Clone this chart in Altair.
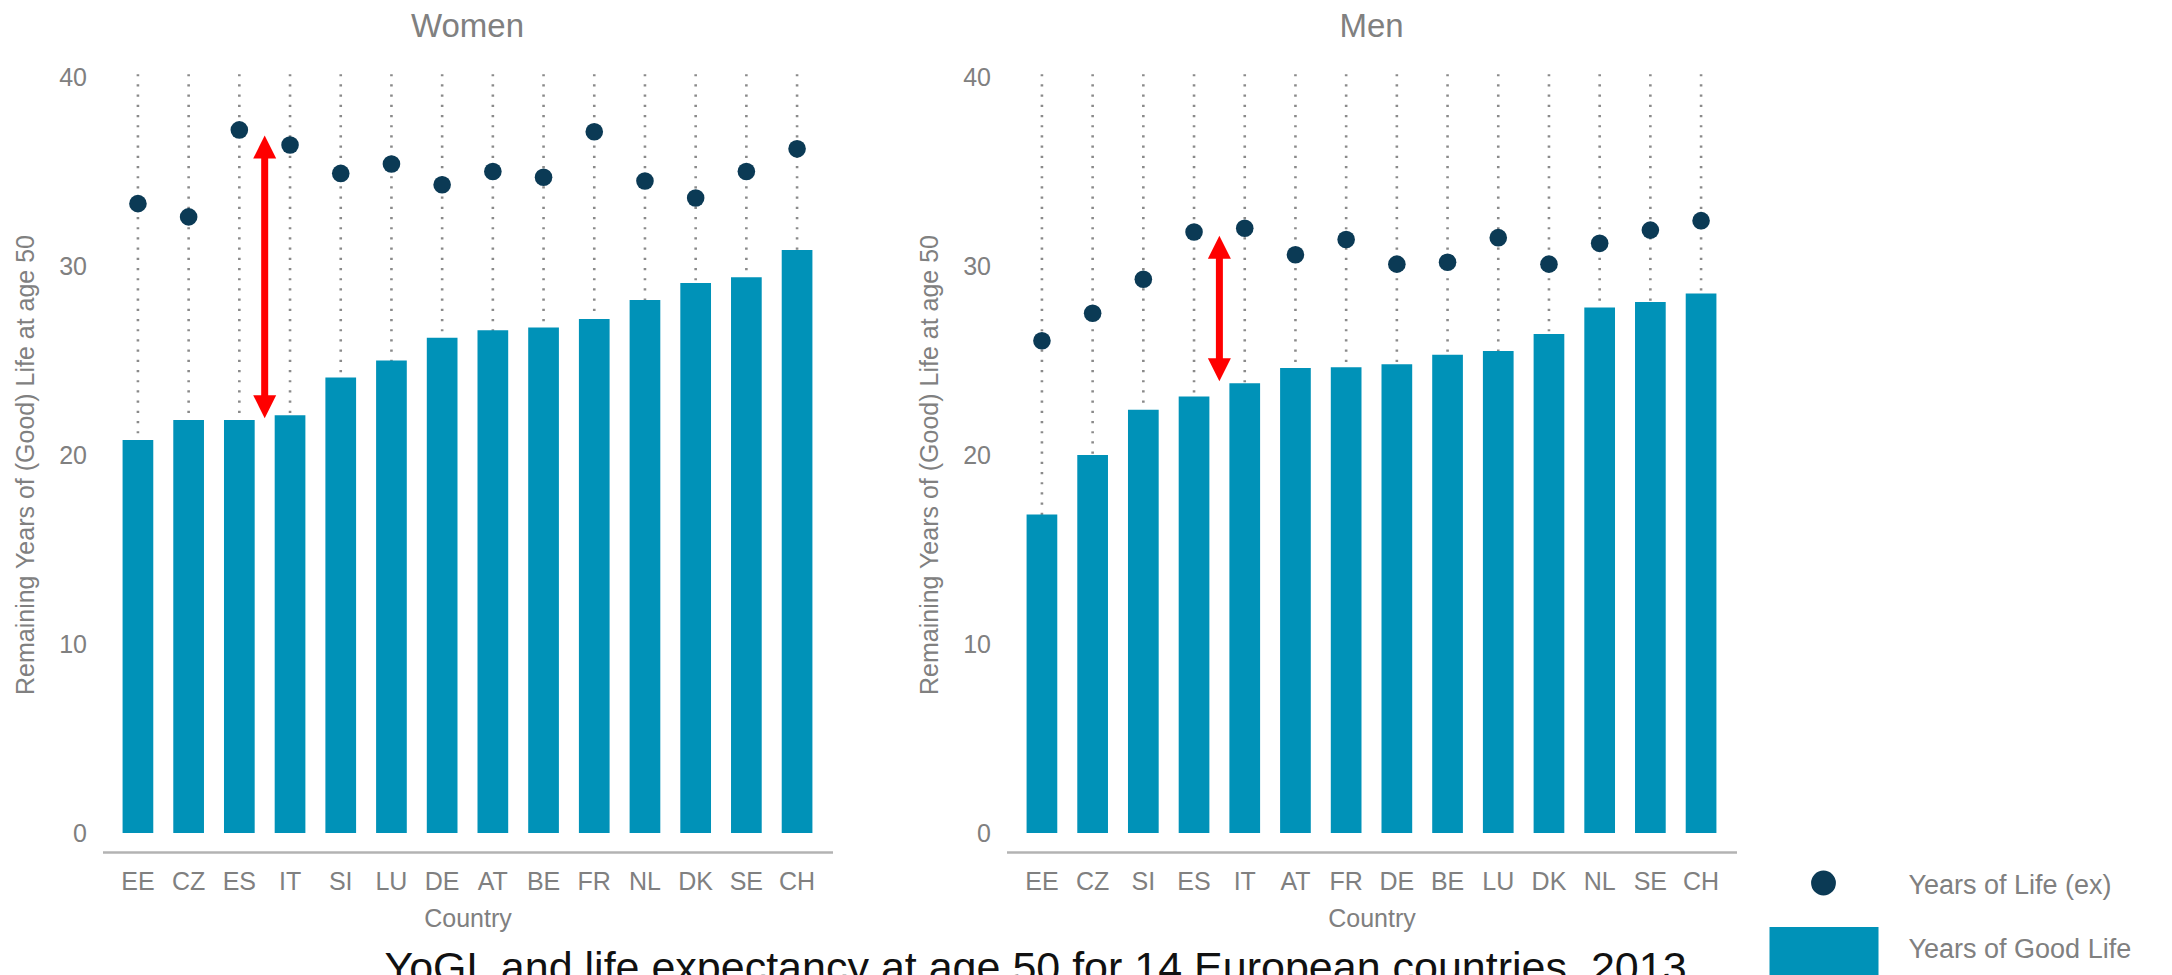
import altair as alt
import pandas as pd

# ---------------- data ----------------
women_countries = ["EE", "CZ", "ES", "IT", "SI", "LU", "DE", "AT", "BE", "FR", "NL", "DK", "SE", "CH"]
women_yogl = [20.8, 21.85, 21.85, 22.1, 24.1, 25.0, 26.2, 26.6, 26.75, 27.2, 28.2, 29.1, 29.4, 30.85]
women_ex = [33.3, 32.6, 37.2, 36.4, 34.9, 35.4, 34.3, 35.0, 34.7, 37.1, 34.5, 33.6, 35.0, 36.2]

men_countries = ["EE", "CZ", "SI", "ES", "IT", "AT", "FR", "DE", "BE", "LU", "DK", "NL", "SE", "CH"]
men_yogl = [16.85, 20.0, 22.4, 23.1, 23.8, 24.6, 24.65, 24.8, 25.3, 25.5, 26.4, 27.8, 28.1, 28.55]
men_ex = [26.05, 27.5, 29.3, 31.8, 32.0, 30.6, 31.4, 30.1, 30.2, 31.5, 30.1, 31.2, 31.9, 32.4]

# red annotation arrows (drawn just left of the named country)
arrow_country = ["IT", "IT"]          # women, men
arrow_top = [36.9, 31.6]
arrow_bottom = [21.95, 23.9]

y_ticks = [0, 10, 20, 30, 40]
panel_titles = ["Women", "Men"]
legend_labels = ["Years of Life (ex)", "Years of Good Life"]
caption_text = ["YoGL and life expectancy at age 50 for 14 European countries, 2013"]
y_title = "Remaining Years of (Good) Life at age 50"
x_title = "Country"

# ---------------- style ----------------
TEAL = "#0092B8"
NAVY = "#0B3A55"
GREY = "#808080"
RED = "#FF0000"
FONT = "Liberation Sans"

PLOT_W = 730
PLOT_H = 775
P_INNER = 0.3945
P_OUTER = 0.396
STEP = PLOT_W / (14 - P_INNER + 2 * P_OUTER)
HALF = STEP / 2


def panel(idx, countries, yogl, ex, extras):
    df = pd.DataFrame({"country": countries, "yogl": yogl, "ex": ex})
    xscale = alt.Scale(domain=countries, paddingInner=P_INNER, paddingOuter=P_OUTER)
    x_axis = alt.Axis(labelFontSize=25, labelColor=GREY, labelAngle=0, labelPadding=17,
                      ticks=False, tickSize=0, domainColor="#b3b3b3", domainWidth=2.5,
                      grid=False, titleFontSize=25, titleColor=GREY, titleFontWeight="normal",
                      titlePadding=12)
    x = alt.X("country:N", scale=xscale, axis=x_axis, title=x_title)
    yscale = alt.Scale(domain=[-1, 40], nice=False)
    y_axis = alt.Axis(values=y_ticks, labelFontSize=25, labelColor=GREY, labelPadding=16,
                      ticks=False, tickSize=0, domain=False, grid=False,
                      titleFontSize=25, titleColor=GREY, titleFontWeight="normal",
                      titlePadding=20)

    def Y(field):
        return alt.Y(f"{field}:Q", scale=yscale, axis=y_axis, title=y_title)

    base = alt.Chart(df)
    guides = base.mark_rule(color="#8a8a8a", strokeWidth=2.6, strokeDash=[2.2, 8]).encode(
        x=x, y=alt.datum(40.15), y2=alt.datum(0))
    bars = base.mark_bar(color=TEAL).encode(x=x, y=Y("yogl"), y2=alt.datum(0))
    dots = base.mark_circle(size=310, color=NAVY, opacity=1).encode(x=x, y=Y("ex"))

    adf = pd.DataFrame({"country": [arrow_country[idx]],
                        "top": [arrow_top[idx]], "bottom": [arrow_bottom[idx]]})
    shaft = alt.Chart(adf).mark_rule(color=RED, strokeWidth=7, xOffset=-HALF,
                                     yOffset=12, y2Offset=-12).encode(
        x=x, y=Y("top"), y2="bottom:Q")
    head_up = alt.Chart(adf).mark_point(shape="M0,0L1,2L-1,2Z", size=529, filled=True,
                                        color=RED, opacity=1, strokeWidth=0,
                                        xOffset=-HALF).encode(x=x, y=Y("top"))
    head_dn = alt.Chart(adf).mark_point(shape="M0,0L1,-2L-1,-2Z", size=529, filled=True,
                                        color=RED, opacity=1, strokeWidth=0,
                                        xOffset=-HALF).encode(x=x, y=Y("bottom"))

    title = alt.TitleParams(text=panel_titles[idx], fontSize=33, color=GREY,
                            fontWeight="normal", anchor="middle", frame="group",
                            offset=-12, baseline="bottom")
    return alt.layer(guides, bars, dots, shaft, head_up, head_dn, *extras).properties(
        width=PLOT_W, height=PLOT_H, title=title)


# caption (placed under both panels, drawn from the women panel)
cap_df = pd.DataFrame({"caption": caption_text})
caption = alt.Chart(cap_df).mark_text(fontSize=43, color="#111111", align="center",
                                      baseline="alphabetic").encode(
    x=alt.value(933), y=alt.value(905), text="caption:N")

# legend (drawn to the right of the men panel)
leg0 = pd.DataFrame({"label": [legend_labels[0]]})
leg1 = pd.DataFrame({"label": [legend_labels[1]]})
leg_dot = alt.Chart(leg0).mark_circle(size=616, color=NAVY, opacity=1).encode(
    x=alt.value(817), y=alt.value(806))
leg_txt0 = alt.Chart(leg0).mark_text(align="left", baseline="middle", fontSize=27,
                                     color=GREY).encode(
    x=alt.value(902), y=alt.value(808.5), text="label:N")
leg_rect = alt.Chart(leg1).mark_rect(color=TEAL).encode(
    x=alt.value(763), x2=alt.value(872), y=alt.value(850), y2=alt.value(905))
leg_txt1 = alt.Chart(leg1).mark_text(align="left", baseline="middle", fontSize=27,
                                     color=GREY).encode(
    x=alt.value(902), y=alt.value(872.5), text="label:N")

women = panel(0, women_countries, women_yogl, women_ex, [caption])
men = panel(1, men_countries, men_yogl, men_ex, [leg_dot, leg_txt0, leg_rect, leg_txt1])

chart = alt.hconcat(women, men, spacing=174, bounds="flush").properties(
    padding={"left": 5.5, "top": 3, "right": 0, "bottom": 0},
    background="white",
).configure(font=FONT).configure_view(strokeWidth=0)

chart.save("out.html", embed_options={"renderer": "svg", "actions": False})
